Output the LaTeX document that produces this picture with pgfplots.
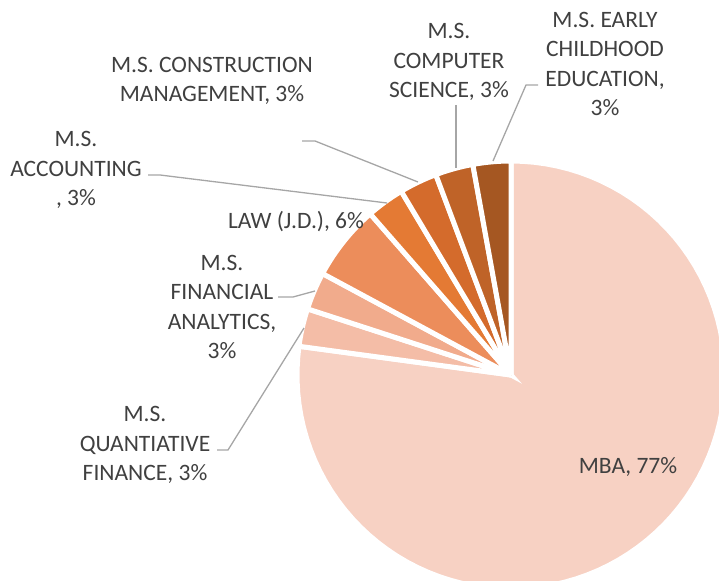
\documentclass[border=0pt]{standalone}
\usepackage{pgfplots}
\pgfplotsset{compat=1.18}
\usepackage{pgfplotstable}
\usepackage{fontspec}
\setmainfont{Carlito}

\definecolor{s0}{HTML}{F7D1C3}
\definecolor{s1}{HTML}{F4BDA7}
\definecolor{s2}{HTML}{F1AB8C}
\definecolor{s3}{HTML}{EC8D5B}
\definecolor{s4}{HTML}{E47A34}
\definecolor{s5}{HTML}{D46B2C}
\definecolor{s6}{HTML}{BF6328}
\definecolor{s7}{HTML}{A55722}
\definecolor{lbl}{HTML}{404040}
\definecolor{lead}{HTML}{A6A6A6}

% students per program (MBA, Quant. Finance, Fin. Analytics, Law, Accounting,
% Construction Mgmt, Computer Science, Early Childhood Education)
\pgfplotstableread{
value
27
1
1
2
1
1
1
1
}\piedata

\def\total{0}
\pgfplotsforeachungrouped \i in {0,...,7}{%
  \pgfplotstablegetelem{\i}{value}\of\piedata
  \pgfmathsetmacro\total{\total+\pgfplotsretval}}
\def\cum{0}
\pgfplotsforeachungrouped \i in {0,...,7}{%
  \pgfplotstablegetelem{\i}{value}\of\piedata
  \pgfmathsetmacro\sA{90-\cum*360/\total}%
  \pgfmathsetmacro\cum{\cum+\pgfplotsretval}%
  \pgfmathsetmacro\eA{90-\cum*360/\total}%
  \expandafter\let\csname pieS\i\endcsname\sA
  \expandafter\let\csname pieE\i\endcsname\eA
}

\begin{document}
\begin{tikzpicture}[lab/.style={align=center, text=lbl, inner sep=0pt,
    font=\fontsize{23.5bp}{29.5bp}\selectfont}]
\begin{axis}[width=719bp, height=581bp, scale only axis,
  xmin=0, xmax=719, ymin=0, ymax=581, y dir=reverse,
  hide axis, clip=true]
\pgfplotsinvokeforeach{0,...,7}{%
  \addplot[fill=s#1, draw=white, line width=5bp,
    domain=\csname pieE#1\endcsname:\csname pieS#1\endcsname, samples=90]
   ({511+214*cos(x)}, {375-214*sin(x)}) -- (axis cs:511,375) -- cycle;
}
\addplot[lead, line width=1.3bp] coordinates {(302,141) (315,141) (418,182)};
\addplot[lead, line width=1.3bp] coordinates {(148,175) (160,175) (387,203)};
\addplot[lead, line width=1.3bp] coordinates {(456,105) (456,168)};
\addplot[lead, line width=1.3bp] coordinates {(538,85) (526,85) (493,161)};
\addplot[lead, line width=1.3bp] coordinates {(278,297) (293,297) (315,291)};
\addplot[lead, line width=1.3bp] coordinates {(217,450) (228,450) (304,328)};

\node[lab] at (axis cs:212,81) {M.S. CONSTRUCTION\\MANAGEMENT, 3\%};
\node[lab] at (axis cs:76,170) {M.S.\\ACCOUNTING\\, 3\%};
\node[lab] at (axis cs:296,222) {LAW (J.D.), 6\%};
\node[lab] at (axis cs:222,307) {M.S.\\FINANCIAL\\ANALYTICS,\\3\%};
\node[lab] at (axis cs:145,445) {M.S.\\QUANTIATIVE\\FINANCE, 3\%};
\node[lab] at (axis cs:449,62) {M.S.\\COMPUTER\\SCIENCE, 3\%};
\node[lab] at (axis cs:605,64) {M.S. EARLY\\CHILDHOOD\\EDUCATION,\\3\%};
\node[lab] at (axis cs:628,467) {MBA, 77\%};
\end{axis}
\pgfresetboundingbox
\useasboundingbox (current axis.south west) rectangle (current axis.north east);
\end{tikzpicture}
\end{document}
